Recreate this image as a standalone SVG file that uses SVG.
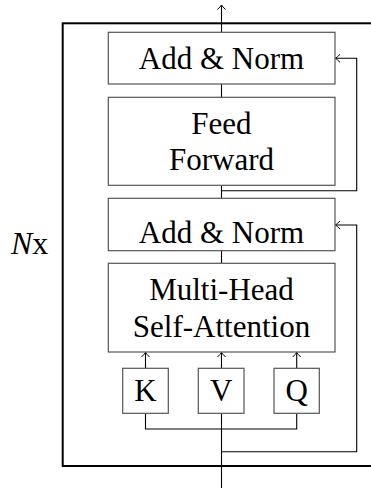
<svg xmlns="http://www.w3.org/2000/svg" width="371" height="488" viewBox="0 0 371 488">
<style>
.box{fill:#fff;stroke:#555;stroke-width:1.2}
.t{font-family:"Liberation Serif","DejaVu Serif",serif;font-size:31px;fill:#000;text-anchor:middle}
.c{fill:none;stroke:#000;stroke-width:1.1}
</style>
<defs>
<marker id="ar" markerUnits="userSpaceOnUse" markerWidth="12" markerHeight="12" viewBox="-8 -6 10 12" refX="0" refY="0" orient="auto">
<path d="M-4.5,-4 Q-1.5,-1 0,0 Q-1.5,1 -4.5,4" fill="none" stroke="#000" stroke-width="1"/>
</marker>
</defs>
<rect x="62.7" y="23.3" width="320" height="442.7" fill="none" stroke="#000" stroke-width="2"/>
<text x="11" y="254" font-family="Liberation Serif,serif" font-size="32" fill="#000"><tspan font-style="italic">N</tspan>x</text>
<g id="connectors">
<path class="c" d="M221.5,32 V5" marker-end="url(#ar)"/>
<path class="c" d="M221.5,84 V97.3"/>
<path class="c" d="M221.5,185.3 V198.3"/>
<path class="c" d="M221.5,250.7 V263.3"/>
<path class="c" d="M221.5,190.7 H356.7 V58.3 H335.5" marker-end="url(#ar)"/>
<path class="c" d="M221.5,451.7 H356.7 V225 H335.5" marker-end="url(#ar)"/>
<path class="c" d="M145.5,368.3 V352.5" marker-end="url(#ar)"/>
<path class="c" d="M221.5,368.3 V352.5" marker-end="url(#ar)"/>
<path class="c" d="M296.7,368.3 V352.5" marker-end="url(#ar)"/>
<path class="c" d="M145.5,413.3 V429 H296.7 V413.3"/>
<path class="c" d="M221.5,413.3 V488"/>
</g>
<g id="addnorm1"><rect class="box" x="108.3" y="32.3" width="226.7" height="51.7"/><text class="t" x="221.5" y="69">Add &amp; Norm</text></g>
<g id="feedforward"><rect class="box" x="108.3" y="97.3" width="226.7" height="88"/><text class="t" x="221.5" y="134">Feed</text><text class="t" x="221.5" y="170">Forward</text></g>
<g id="addnorm2"><rect class="box" x="108.3" y="198.3" width="226.7" height="52.4"/><text class="t" x="221.5" y="243">Add &amp; Norm</text></g>
<g id="mhsa"><rect class="box" x="108.3" y="263.3" width="226.7" height="88.7"/><text class="t" x="221.5" y="300">Multi-Head</text><text class="t" x="221.5" y="337">Self-Attention</text></g>
<g id="k"><rect class="box" x="122.7" y="368.3" width="45.6" height="45"/><text class="t" x="145.5" y="401">K</text></g>
<g id="v"><rect class="box" x="198.3" y="368.3" width="45.7" height="45"/><text class="t" x="221.2" y="401">V</text></g>
<g id="q"><rect class="box" x="274" y="368.3" width="45.3" height="45"/><text class="t" x="296.7" y="401">Q</text></g>
</svg>
